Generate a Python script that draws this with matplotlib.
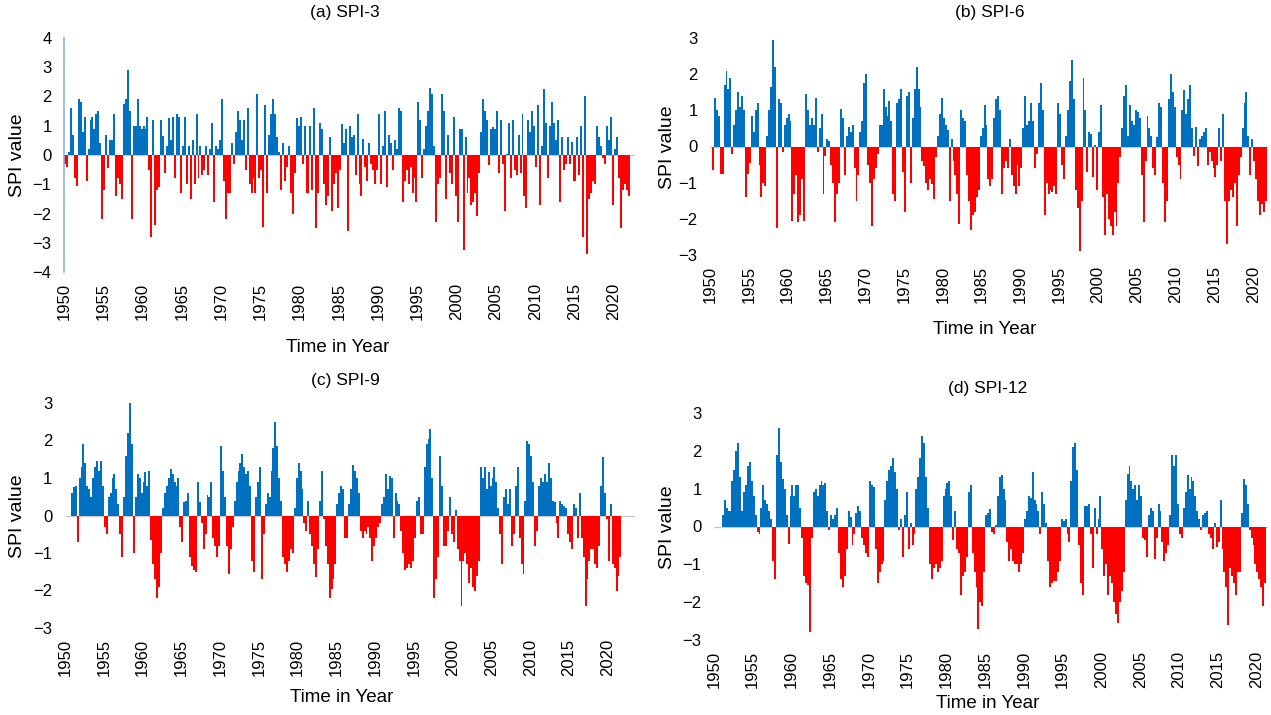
import numpy as np
import matplotlib
matplotlib.use('Agg')
import matplotlib.pyplot as plt

plt.rcParams['font.family'] = ['Liberation Sans', 'DejaVu Sans']

# quarterly SPI values, starting 1950 Q1
spi3 = [
    -0.3, -0.4, 0.1, 1.6,   0.7, -0.8, -1.05, 1.9,
    1.8, 0.8, 1.3, -0.9,    0.2, 1.2, 1.3, 0.9,
    1.4, 1.5, 0.4, -2.2,    -1.2, 0.7, -0.45, 0.5,
    0.5, 1.4, -1.4, -0.8,   -1.0, -1.5, 1.75, 1.9,
    2.9, 1.5, -2.2, 1.0,    1.0, 1.9, 1.0, 0.9,
    1.0, 0.9, 1.3, -0.5,    -2.8, 1.2, -2.4, -1.2,
    -1.1, 1.2, 0.65, -0.6,  0.3, 1.25, 0.5, 1.3,
    -0.8, 1.4, 1.3, -1.3,   0.3, 1.3, -1.0, 0.3,
    -1.5, 0.5, -1.0, 1.4,   -0.8, 0.3, -0.7, -0.5,
    0.3, -0.7, 0.2, 1.1,    -1.6, 0.3, 0.2, 0.5,
    1.9, -0.9, -2.2, -1.3,  -1.3, 0.4, -0.3, 0.8,
    1.5, 1.2, 0.5, 1.2,     -0.5, 1.6, -1.0, -1.3,
    -0.8, -1.3, 2.1, -0.8,  -0.5, -2.45, 1.7, -1.3,
    0.7, 1.4, 1.9, 1.4,     0.6, 0.1, -1.2, 0.4,
    -0.9, -0.4, 0.3, -1.3,  -2.0, -0.6, 1.25, 1.0,
    1.3, -0.3, 1.0, -1.3,   -1.3, 1.0, -1.2, 1.6,
    -2.5, -1.3, 1.1, 0.9,   -1.0, -1.7, -1.4, 0.6,
    -1.9, -1.0, -0.6, -1.8, -0.5, 1.05, 0.4, 0.9,
    -2.6, 1.0, 0.6, 0.7,    -0.7, 1.4, -1.0, -1.4,
    0.55, -0.4, -0.9, 0.4,  -0.3, -0.5, -1.0, -0.5,
    1.4, -1.0, 0.3, 1.5,    -1.1, 0.7, 0.4, -0.5,
    0.5, 0.2, 1.6, 1.5,     -1.6, -0.9, -0.5, -1.0,
    -0.4, -1.3, -0.8, -1.6, 1.8, 1.2, -0.8, 0.2,
    1.0, 1.5, 2.3, 2.1,     0.3, -2.3, -1.0, -0.8,
    2.1, 1.5, -1.5, 0.7,    -0.6, -1.0, 1.3, -1.4,
    -2.3, 0.9, 0.9, -3.25,  0.6, -1.3, -0.8, -1.7,
    -1.6, -1.3, -2.1, -0.6, 0.8, 1.9, 1.5, 1.2,
    -0.35, 0.9, 0.95, 0.9,  1.5, -0.6, 1.2, -0.3,
    -1.9, 0.05, 1.1, -0.8,  1.2, -0.5, -0.7, 0.7,
    -0.6, 1.4, -1.4, -1.8,  1.2, 0.8, 1.5, 1.0,
    -0.4, 1.7, -1.7, 0.3,   2.25, 1.1, -0.8, 1.0,
    1.8, 1.1, 0.5, 1.2,     -1.6, 0.6, -0.5, -0.3,
    0.6, -0.3, 0.45, -0.9,  -0.9, 0.6, -0.7, 1.0,
    -2.8, 2.0, -3.4, -1.5,  -1.3, -0.9, -1.0, 1.0,
    0.6, 0.3, -0.1, -0.3,   1.0, 0.5, 1.3, -1.7,
    0.2, 0.6, -0.8, -2.5,   -1.2, -1.0, -1.2, -1.4,
]

spi6 = [
    0, -0.65, 1.35, 1.0,    0.85, -0.75, -0.75, 1.7,
    2.1, 1.6, 1.9, -0.2,    0.6, 1.0, 1.5, 1.1,
    1.4, 1.0, -1.4, -0.75,  -0.45, 0.85, 0.4, 1.0,
    1.2, -0.5, -1.4, -1.0,  -1.1, 0.3, 1.0, 1.65,
    2.95, 2.2, -2.25, 1.3,  1.2, -0.15, 0.6, 0.8,
    0.9, 0.7, -2.05, -1.3,  -0.8, -2.1, -1.9, -0.9,
    -2.05, 1.45, 1.0, 0.6,  0.8, 0.6, 1.35, -0.15,
    0.5, 0.9, -1.3, -0.25,  0.2, 0.15, -0.5, -1.0,
    -2.1, -1.3, -1.0, 1.05, 0.8, -0.8, 0.3, 0.55,
    0.4, 0.6, -0.6, -1.5,   -0.8, 0.4, 0.7, 1.75,
    2.0, -0.5, -1.0, -2.2,  -0.9, -0.6, -0.2, 0.6,
    0.6, 1.6, 1.1, 0.85,    1.25, 0.7, -1.3, -1.5,
    1.2, 1.3, 1.6, -0.7,    -1.8, 1.4, 1.5, -1.0,
    0.8, 1.6, 2.2, 1.6,     1.1, -0.4, -0.55, -1.0,
    -1.2, -0.9, -1.05, -1.45, -0.3, 0.3, 0.9, 1.35,
    0.8, 0.6, 0.45, -1.5,   0.2, -0.4, -0.8, -1.3,
    -2.15, 1.0, 0.8, 0.7,   -0.8, -1.5, -2.3, -1.9,
    -1.8, -1.4, -1.2, 0.3,  0.5, 1.15, 0.6, -0.9,
    -1.1, -0.9, 0.8, 1.3,   1.4, 1.0, -1.3, -0.6,
    -0.4, -0.6, 0.2, -0.8,  -1.1, -1.3, -0.5, -1.1,
    -0.6, 0.5, 1.4, 0.6,    0.7, 1.2, 0.7, -0.6,
    -0.2, 1.2, 1.75, 1.0,   -1.9, -1.0, -1.3, -1.2,
    -1.25, -1.1, -1.3, 1.2, 0.9, -0.5, -0.9, 0.3,
    1.0, 1.8, 2.4, 1.3,     -1.2, -1.7, -2.9, -1.5,
    1.9, 1.0, -0.7, 0.4,    0.35, -0.85, 0.05, -1.2,
    0.4, 1.15, -1.4, -2.45, -1.3, -2.0, -2.2, -2.45,
    -1.8, -2.2, -1.0, -0.3, 0.5, 1.4, 1.7, 0.3,
    1.15, 0.7, 0.6, 1.0,    0.95, 0.8, -0.8, -2.1,
    -0.4, 0.85, 0.5, 0.3,   -0.6, -0.8, 0.25, 1.2,
    1.1, -1.0, -2.1, -1.5,  1.3, 2.0, 1.5, 1.1,
    -0.3, -0.5, -0.9, 1.0,  1.55, 0.9, 1.3, 1.7,
    0.5, -0.25, 0.55, -0.55, 0.2, 0.3, 0.4, 0.5,
    -0.5, -0.15, -0.4, -0.6, -0.85, -0.5, 0.5, -0.4,
    0.9, -1.5, -2.7, -1.5,  -1.2, -1.4, -1.0, -2.2,
    -0.8, -0.3, 0.5, 1.2,   1.5, 0.3, -0.8, 0.2,
    -0.4, -0.9, -1.5, -1.9, -1.6, -1.8, -1.5,
]

spi9 = [
    0, 0, 0, 0.6,           0.75, 0.8, -0.7, 1.0,
    1.3, 1.9, 1.4, 0.8,     0.7, 0.5, 1.0, 1.3,
    1.45, 1.2, 1.45, 0.8,   -0.3, -0.5, 0.5, 0.6,
    1.0, 1.1, 0.7, 0.3,     -0.5, -1.1, 0.5, 1.6,
    2.2, 3.0, 1.9, -1.0,    0.5, 1.1, 1.0, 0.6,
    0.9, 1.15, 0.8, 1.2,    -0.65, -1.3, -1.7, -2.2,
    -1.9, -1.0, 0.2, 0.6,   0.8, 1.0, 1.25, 1.1,
    0.9, 0.8, 1.0, -0.3,    -0.7, 0.35, 0.4, 0.6,
    -1.1, -1.35, -1.45, -1.5, 0.9, 0.35, -0.2, -0.9,
    -0.5, 0.55, 0.5, 0.9,   -0.6, -0.8, -1.1, -0.8,
    1.85, 1.2, 0.5, -0.8,   -1.55, -0.9, -0.3, 0.4,
    0.9, 1.2, 1.4, 1.65,    1.3, 1.1, 1.2, 0.8,
    -1.2, -1.5, 0.5, 0.9,   1.3, -1.7, -0.5, 0.3,
    0.6, 0.5, 1.2, 1.8,     2.5, 1.85, 1.0, 0.4,
    -1.1, -1.3, -1.5, -1.2, -0.9, -1.0, 0.2, 1.0,
    1.4, 1.2, 0.7, -0.2,    -0.4, 0.4, -0.5, -0.8,
    -1.3, -1.65, -0.9, 0.4, 1.2, -0.1, -0.8, -1.3,
    -2.2, -1.95, -1.7, -1.3, 0.3, 0.6, 0.8, 0.7,
    -0.6, -0.6, 0.3, 0.7,   1.35, 1.2, 1.0, 0.6,
    -0.4, -0.6, -0.4, -0.5, -0.3, -0.6, -1.2, -0.8,
    -0.6, -0.3, -0.2, 0.3,  0.5, 1.1, 0.7, 1.05,
    1.0, -0.6, 0.6, 0.4,    0.3, -0.4, -1.0, -1.45,
    -1.4, -1.3, -1.4, -1.2, -0.6, 0.4, 0.5, -0.5,
    -0.5, 1.3, 1.9, 2.05,   2.3, 1.0, -2.2, -1.7,
    -1.1, 1.6, 0.8, -0.8,   -0.8, -0.4, 0.5, -0.5,
    -0.7, 0.15, -0.9, -1.2, -2.4, -1.2, -1.0, -1.3,
    -1.8, -1.4, -1.9, -2.0, -1.6, -1.2, 1.3, 1.0,
    1.3, 0.7, 1.15, 0.8,    1.0, 1.3, 0.9, 0.2,
    -0.5, -1.3, 0.5, 0.7,   0.3, 0.7, -0.8, -0.5,
    0.8, 1.3, -0.6, -1.3,   -1.55, 0.4, 2.0, 1.9,
    1.6, 0.9, -0.8, -0.4,   0.8, 1.0, 0.9, 1.1,
    0.9, 1.4, 1.0, 0.4,     0.35, -0.2, -0.6, 0.4,
    0.3, 0.25, 0.2, -0.5,   -0.7, -0.9, 0.3, 0.2,
    -0.6, 0.6, -0.6, -1.1,  -2.4, -1.7, -1.2, -0.9,
    -0.9, -1.3, -1.4, -0.8, 0.8, 1.55, 0.6, -0.1,
    -1.2, 0.3, -1.3, -1.4,  -2.0, -1.6, -1.1,
]

spi12 = [
    0, 0, 0, 0,             0.3, 0.7, 0.5, 0.4,
    0.4, 1.2, 1.5, 2.0,     2.2, 1.3, 0.4, 0.9,
    1.1, 1.6, 1.7, 1.2,     0.8, 0.3, -0.15, -0.2,
    0.5, 1.1, 0.7, 0.6,     0.4, 0.2, -0.9, -1.4,
    1.9, 2.6, 1.7, 1.25,    1.0, 0.3, -0.45, 0.8,
    1.1, 0.8, 1.1, 1.1,     0.5, -0.3, -1.3, -1.5,
    -1.55, -2.8, -0.3, 0.9, 1.0, 0.8, 1.1, 1.2,
    1.1, 1.15, 0.4, -0.1,   0.3, 0.2, 0.3, 0.5,
    -0.7, -1.4, -1.6, -1.3, -0.6, 0.4, 0.25, -0.5,
    -0.2, 0.35, 0.55, 0.4,  -0.3, -0.5, -0.7, -0.8,
    1.2, 1.1, 1.05, -0.6,   -1.5, -1.2, -1.0, -0.9,
    0.7, 1.2, 1.5, 1.6,     1.8, 1.45, 1.0, -0.1,
    0.2, -0.8, 0.3, 0.9,    -0.6, 0.1, -0.5, -0.2,
    1.0, 1.3, 1.8, 2.4,     2.2, 1.3, 0.5, -1.0,
    -1.4, -1.1, -1.0, -1.2, -1.1, -0.9, 0.8, 1.0,
    1.15, 1.2, 0.8, -0.35,  0.4, -0.6, -0.7, -1.8,
    -1.3, -1.2, -0.8, 0.9,  1.1, -0.7, -1.2, -1.6,
    -2.7, -2.0, -2.1, -1.2, 0.3, 0.35, 0.45, -0.15,
    -0.2, 0.05, 0.8, 1.3,   1.35, 1.0, 0.7, -0.4,
    -0.9, -0.6, -0.9, -1.0, -1.0, -1.2, -1.0, -0.7,
    0.2, 0.4, 0.8, 0.75,    1.45, 0.7, 0.6, 0.4,
    -0.2, 0.9, 0.6, 0.1,    -0.9, -1.6, -1.5, -1.45,
    -1.45, -1.2, -0.9, 0.2, 0.15, 0.2, -0.2, -0.4,
    1.2, 2.1, 2.2, 1.5,     -0.5, -1.5, -1.8, 0.55,
    0.55, 0.6, -0.2, -1.1,  0.5, -0.2, 0.2, 0.8,
    -0.6, -1.3, -1.0, -1.8, -1.3, -1.5, -2.0, -2.3,
    -2.55, -2.0, -1.7, -1.2, 0.7, 1.4, 1.6, 1.2,
    1.0, 1.1, 0.7, 1.1,     0.8, -0.3, -0.35, -0.8,
    0.3, 0.5, 0.4, -0.85,   -0.3, 0.6, 0.4, -0.4,
    -0.9, -0.7, -0.5, 0.3,  1.9, 1.6, 1.9, 0.6,
    -0.2, -0.3, 0.5, 0.9,   1.35, 1.0, 1.3, 1.2,
    0.8, 0.4, 0.2, -0.1,    0.3, 0.35, 0.4, -0.2,
    -0.3, -0.6, 0.1, -0.55, -0.4, 0.7, -0.6, -1.2,
    -1.6, -2.6, -1.1, -1.3, -1.5, -1.8, -1.2, -1.2,
    0.35, 1.25, 1.1, 0.6,   -0.1, -0.3, -0.5, -1.0,
    -1.2, -1.4, -1.6, -2.1, -1.5,
]

titles = ['(a) SPI-3', '(b) SPI-6', '(c) SPI-9', '(d) SPI-12']
tick_years = list(range(1950, 2021, 5))

W, H = 1271, 715
fig = plt.figure(figsize=(W / 100, H / 100), dpi=100)


def px_axes(left, right, top, bottom):
    return fig.add_axes([left / W, 1 - bottom / H, (right - left) / W, (bottom - top) / H])


# (values, pixel box, xlim end, y range, title pos, ylabel pos, xlabel pos)
panels = [
    (spi3, (64, 635, 38, 272), 2022.7, 4, (345, 12), (18, 155), (338, 348)),
    (spi6, (710, 1268, 38, 255), 2021.9, 3, (990, 12), (667, 147), (985, 330)),
    (spi9, (65, 635, 403, 628), 2023.5, 3, (345, 380), (18, 516), (342, 698)),
    (spi12, (714, 1268, 413, 640), 2021.5, 3, (988, 388), (667, 527), (988, 703)),
]

for i, (vals, box, xend, ymax, tpos, ylpos, xlpos) in enumerate(panels):
    ax = px_axes(*box)
    vals = np.array(vals)
    x = 1950 + 0.25 * np.arange(len(vals))
    colors = np.where(vals >= 0, '#0070C0', '#FF0000')
    ax.bar(x, vals, width=0.25, align='edge', color=colors, linewidth=0)
    ax.axhline(0, color='#c8c8c8', lw=0.9, zorder=0)
    ax.set_xlim(1950, xend)
    ax.set_ylim(-ymax, ymax)
    ax.set_yticks(range(-ymax, ymax + 1))
    ax.set_xticks(tick_years)
    ax.set_xticklabels([str(y) for y in tick_years], rotation=90)
    ax.tick_params(length=0, labelsize=12)
    ax.tick_params(axis='y', pad=9)
    ax.tick_params(axis='x', pad=8)
    for s in ax.spines.values():
        s.set_visible(False)
    if i == 0:
        ax.spines['left'].set_visible(True)
        ax.spines['left'].set_color('#8db3d9')
        ax.spines['left'].set_linewidth(1.2)
    fig.text(tpos[0] / W, 1 - tpos[1] / H, titles[i], ha='center', va='center', fontsize=12.5)
    fig.text(ylpos[0] / W, 1 - ylpos[1] / H, 'SPI value', ha='center', va='center',
             rotation=90, fontsize=14)
    fig.text(xlpos[0] / W, 1 - xlpos[1] / H, 'Time in Year', ha='center', va='center',
             fontsize=13.5)

fig.savefig('out.png', dpi=100)
